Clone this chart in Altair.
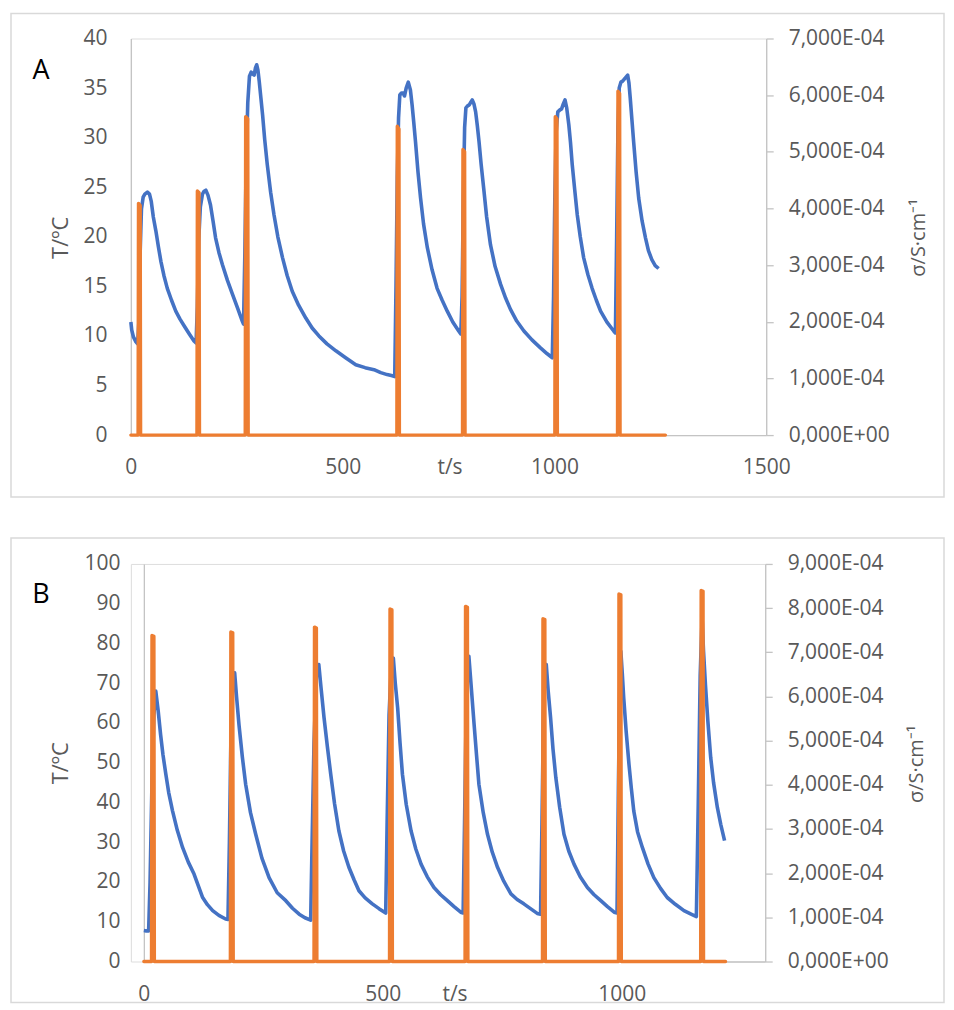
import altair as alt
import pandas as pd

# ---------------- Panel A data ----------------
a_t = [0, 2, 6, 12, 16, 19, 22, 25, 29, 33, 39, 44, 48, 53, 59, 65, 71, 78, 86, 96, 106, 116, 126, 138, 149, 154,
       157, 160, 164, 169, 173, 177, 182, 188, 194, 200, 208, 216, 228, 240, 252, 263, 266,
       269, 272, 276, 280, 284, 288, 291, 294, 297, 300, 303, 307, 311, 316, 322, 330, 338, 347, 358, 369, 381,
       396, 413, 428, 444, 463, 484, 507, 531, 553, 574, 590, 605, 615, 623,
       626, 629, 632, 635, 639, 643, 646, 650, 655, 660, 664, 668, 672, 678, 684, 691, 700, 711, 723, 735, 747,
       760, 774, 779,
       782, 785, 788, 791, 795, 799, 803, 806, 810, 814, 818, 822, 827, 833, 840, 849, 860, 873, 885, 896, 911,
       928, 947, 967, 983, 995,
       998, 1001, 1004, 1008, 1013, 1017, 1021, 1025, 1029, 1034, 1038, 1042, 1048, 1054, 1061, 1069, 1079, 1089,
       1099, 1109, 1124, 1140, 1144,
       1147, 1150, 1153, 1157, 1161, 1165, 1169, 1173, 1176, 1179, 1183, 1187, 1193, 1199, 1207, 1215, 1222, 1230,
       1238, 1246]
a_T = [11.4, 10.6, 9.9, 9.4, 9.2, 11.5, 18.5, 22.8, 24.0, 24.3, 24.5, 24.3, 23.6, 22.0, 20.6, 19.0, 17.5, 16.1,
       14.8, 13.6, 12.5, 11.7, 11.0, 10.2, 9.5, 9.3,
       13.0, 19.5, 23.0, 24.3, 24.6, 24.7, 24.2, 23.2, 21.6, 19.9, 18.4, 17.2, 15.6, 14.2, 12.8, 11.5, 11.2,
       18.0, 27.0, 33.5, 36.2, 36.6, 36.4, 36.3, 37.0, 37.35, 36.8, 35.7, 34.0, 32.3, 29.8, 27.3, 24.5, 22.2, 20.0,
       17.9, 16.1, 14.5, 13.1, 11.8, 10.8, 10.0, 9.2, 8.5, 7.8, 7.1, 6.8, 6.6, 6.3, 6.1, 6.0, 5.9,
       15.0, 26.0, 32.0, 34.3, 34.5, 34.5, 34.2, 35.0, 35.6, 34.8, 33.3, 31.5, 29.6, 26.5, 23.9, 21.3, 18.9, 16.7,
       14.8, 13.6, 12.5, 11.4, 10.5, 10.2,
       14.0, 24.0, 31.0, 33.0, 33.2, 33.3, 33.6, 33.8, 33.4, 32.6, 31.2, 29.6, 27.3, 24.9, 22.0, 19.2, 17.0, 15.2,
       13.8, 12.7, 11.5, 10.5, 9.6, 8.8, 8.2, 7.8,
       14.0, 24.0, 30.5, 32.6, 32.8, 32.9, 33.4, 33.8, 33.0, 31.3, 29.5, 27.3, 24.7, 22.2, 20.0, 17.9, 16.2, 14.8,
       13.6, 12.5, 11.4, 10.5, 10.3,
       20.0, 31.0, 35.0, 35.6, 35.7, 35.9, 36.1, 36.3, 35.5, 34.0, 31.8, 29.6, 26.5, 23.9, 21.6, 19.9, 18.6, 17.7,
       17.1, 16.8]

a_sig_t = [0, 17, 18, 22, 23, 156, 157, 161, 162, 270, 271, 276, 277, 628, 629, 633, 634, 783, 784, 788, 789,
           1001, 1002, 1006, 1007, 1149, 1150, 1154, 1155, 1262]
a_sig = [0, 0, 4.09e-4, 4.05e-4, 0, 0, 4.31e-4, 4.28e-4, 0, 0, 5.62e-4, 5.58e-4, 0, 0, 5.45e-4, 5.40e-4, 0,
         0, 5.04e-4, 5.00e-4, 0, 0, 5.62e-4, 5.58e-4, 0, 0, 6.07e-4, 6.03e-4, 0, 0]

a_x_ticks = [0, 500, 1000, 1500]
a_T_ticks = [0, 5, 10, 15, 20, 25, 30, 35, 40]
a_sig_ticks = [0, 1e-4, 2e-4, 3e-4, 4e-4, 5e-4, 6e-4, 7e-4]
a_sig_labels = ["0,000E+00", "1,000E-04", "2,000E-04", "3,000E-04", "4,000E-04", "5,000E-04",
                "6,000E-04", "7,000E-04"]

# ---------------- Panel B data ----------------
b_t = [0, 5, 10, 13, 17, 21, 25, 30, 35, 40, 46, 52, 60, 70, 81, 93, 105, 114, 123, 133, 144, 157, 171, 176,
       179, 182, 186, 190, 194, 199, 206, 213, 223, 234, 247, 262, 279, 297, 311, 325, 337, 349,
       352, 356, 361, 366, 371, 377, 384, 391, 399, 408, 418, 429, 440, 450, 463, 478, 492, 506,
       509, 513, 518, 522, 526, 531, 536, 541, 549, 559, 569, 580, 593, 607, 621, 635, 649, 663, 668,
       671, 674, 677, 680, 685, 691, 696, 701, 710, 719, 729, 740, 753, 768, 781, 795, 809, 823, 830,
       833, 836, 839, 842, 846, 851, 856, 862, 870, 879, 889, 900, 913, 928, 942, 956, 970, 984, 990,
       993, 996, 998, 1001, 1004, 1009, 1015, 1020, 1025, 1033, 1043, 1055, 1067, 1081, 1095, 1112, 1130, 1145,
       1156,
       1160, 1164, 1168, 1171, 1175, 1180, 1186, 1192, 1200, 1207, 1215]
b_T = [7.8, 7.7, 7.7, 20, 45, 62, 68.0, 63, 57.1, 52, 47.1, 42.5, 37.9, 33.0, 28.7, 25.0, 22.0, 19.0, 16.1, 14.3,
       12.8, 11.6, 10.7, 10.6,
       30, 55, 70, 72.6, 66.5, 59.6, 51.5, 44.6, 37.5, 32.0, 26.0, 21.1, 17.3, 15.3, 13.4, 11.9, 11.0, 10.4,
       30, 55, 72, 74.7, 68.5, 61.3, 54, 47.1, 39.7, 32.9, 27.8, 23.7, 20.5, 17.8, 16.0, 14.5, 13.3, 12.2,
       35, 62, 75, 76.3, 70, 63.8, 55, 47.1, 39.5, 32.9, 28.3, 24.5, 21.3, 18.6, 16.8, 15.3, 13.8, 12.4, 12.2,
       35, 60, 74, 76.8, 69, 59.6, 52, 44.6, 37.5, 32.0, 27.5, 23.7, 20.2, 17.0, 15.6, 14.5, 13.3, 12.1, 11.9,
       35, 62, 73, 74.7, 68, 61.3, 53.5, 46.2, 38.8, 32.0, 27.8, 24.5, 21.3, 18.6, 16.8, 15.3, 13.8, 12.4, 12.2,
       45, 72, 78.0, 72.5, 66.3, 58, 49.6, 43.5, 37.9, 32.6, 28.7, 24.5, 21.1, 18.4, 16.1, 14.4, 12.8, 11.9, 11.3,
       40, 72, 86.4, 78, 69.6, 60.5, 51.3, 45, 38.7, 34.5, 30.4]

b_sig_t = [0, 16, 17, 21, 22, 181, 182, 186, 187, 356, 357, 361, 362, 514, 515, 519, 520, 672, 673, 677, 678,
           834, 835, 839, 840, 993, 994, 998, 999, 1165, 1166, 1170, 1171, 1217]
b_sig = [0, 0, 7.38e-4, 7.36e-4, 0, 0, 7.46e-4, 7.44e-4, 0, 0, 7.57e-4, 7.55e-4, 0, 0, 7.98e-4, 7.96e-4, 0,
         0, 8.04e-4, 8.02e-4, 0, 0, 7.76e-4, 7.74e-4, 0, 0, 8.32e-4, 8.30e-4, 0, 0, 8.40e-4, 8.38e-4, 0, 0]

b_x_ticks = [0, 500, 1000]
b_T_ticks = [0, 10, 20, 30, 40, 50, 60, 70, 80, 90, 100]
b_sig_ticks = [0, 1e-4, 2e-4, 3e-4, 4e-4, 5e-4, 6e-4, 7e-4, 8e-4, 9e-4]
b_sig_labels = ["0,000E+00", "1,000E-04", "2,000E-04", "3,000E-04", "4,000E-04", "5,000E-04",
                "6,000E-04", "7,000E-04", "8,000E-04", "9,000E-04"]

BLUE = "#4472C4"
ORANGE = "#ED7D31"
AXIS_GRAY = "#C4C4C4"
TEXT_GRAY = "#595959"
FONT = "Open Sans"
LAB_SIZE = 21


def panel(letter, t, T, st, s, xdom, xrange, xticks, Tdom, Tticks, sdom, sticks, slabels,
          w, h, frame, letter_pos, xtitle_pos, ltitle_pos, rtitle_pos, xlabpad, ylabpad, yoffset):
    blue_df = pd.DataFrame({"t": t, "v": T})
    orange_df = pd.DataFrame({"t": st, "v": s})

    xaxis = alt.Axis(values=xticks, format="d", title="t/s", grid=False, ticks=False,
                     domainColor=AXIS_GRAY, domainWidth=1.3, labelFontSize=LAB_SIZE, labelColor=TEXT_GRAY,
                     labelPadding=xlabpad, labelFlush=False, labelFont=FONT, titleFont=FONT,
                     titleFontSize=21, titleFontWeight="normal", titleColor=TEXT_GRAY,
                     titleX=xtitle_pos[0], titleY=xtitle_pos[1], titleAlign="center",
                     titleBaseline="middle")
    xscale = alt.Scale(domain=xdom, range=xrange, nice=False, zero=False)

    blue = alt.Chart(blue_df).mark_line(color=BLUE, strokeWidth=3.6, strokeJoin="round").encode(
        x=alt.X("t:Q", scale=xscale, axis=xaxis),
        y=alt.Y("v:Q", scale=alt.Scale(domain=Tdom, nice=False),
                axis=alt.Axis(values=Tticks, title="T/ºC", grid=False, ticks=False, orient="left",
                              offset=yoffset, domainColor=AXIS_GRAY, domainWidth=1.3,
                              labelFontSize=LAB_SIZE, labelColor=TEXT_GRAY, labelPadding=ylabpad,
                              labelFont=FONT, titleFont=FONT, titleFontSize=22, titleFontWeight="normal",
                              titleColor=TEXT_GRAY, titleAngle=270, titleX=ltitle_pos[0],
                              titleY=ltitle_pos[1], titleAlign="center", titleBaseline="middle")),
        order="t:Q",
    )

    label_expr = "[" + ",".join("'" + lab + "'" for lab in slabels) + "][round(datum.value * 10000)]"
    orange = alt.Chart(orange_df).mark_line(color=ORANGE, strokeWidth=3.4, strokeJoin="round",
                                            strokeCap="round").encode(
        x=alt.X("t:Q", scale=xscale, axis=xaxis),
        y=alt.Y("v:Q", scale=alt.Scale(domain=sdom, nice=False),
                axis=alt.Axis(values=sticks, labelExpr=label_expr, title="σ/S·cm⁻¹", grid=False,
                              orient="right", ticks=True, tickSize=7, tickColor=AXIS_GRAY,
                              tickWidth=1.3, domainColor=AXIS_GRAY, domainWidth=1.3,
                              labelFontSize=LAB_SIZE, labelColor=TEXT_GRAY, labelPadding=15,
                              labelFont=FONT, titleFont=FONT, titleFontSize=20,
                              titleFontWeight="normal", titleColor=TEXT_GRAY, titleAngle=270,
                              titleX=rtitle_pos[0], titleY=rtitle_pos[1], titleAlign="center",
                              titleBaseline="middle")),
        order="t:Q",
    )

    frame_df = pd.DataFrame({"k": [letter]})
    box = alt.Chart(frame_df).mark_rect(fill="white", fillOpacity=0, stroke="#D9D9D9",
                                        strokeWidth=1.5).encode(
        x=alt.value(frame[0]), x2=alt.value(frame[1]), y=alt.value(frame[2]), y2=alt.value(frame[3])
    )
    lab = alt.Chart(frame_df).mark_text(fontSize=27, font=FONT, color="black", align="center",
                                        baseline="middle").encode(
        text="k:N", x=alt.value(letter_pos[0]), y=alt.value(letter_pos[1])
    )

    return alt.layer(box, lab, blue, orange).resolve_scale(y="independent").properties(
        width=w, height=h)


chart_a = panel("A", a_t, a_T, a_sig_t, a_sig, [0, 1500], [0, 636], a_x_ticks, [0, 40], a_T_ticks,
                [0, 7e-4], a_sig_ticks, a_sig_labels, 636, 397,
                frame=(-120, 814, -25, 459), letter_pos=(-90, 33), xtitle_pos=(319, 32),
                ltitle_pos=(-70, 199), rtitle_pos=(152, 199), xlabpad=21, ylabpad=24, yoffset=0)

chart_b = panel("B", b_t, b_T, b_sig_t, b_sig, [0, 1300], [13, 635], b_x_ticks, [0, 100], b_T_ticks,
                [0, 9e-4], b_sig_ticks, b_sig_labels, 635, 398,
                frame=(-120, 814, -26, 439), letter_pos=(-90, 31), xtitle_pos=(324, 33),
                ltitle_pos=(-83, 199), rtitle_pos=(151, 200), xlabpad=22, ylabpad=24, yoffset=-13)

chart = alt.concat(chart_a, chart_b, columns=1, spacing=37, bounds="full").properties(
    padding={"left": 1, "top": 3, "right": 0, "bottom": 0}
).configure_view(stroke=None).configure(font=FONT)

chart.save("out.html", embed_options={"renderer": "svg", "actions": False})
